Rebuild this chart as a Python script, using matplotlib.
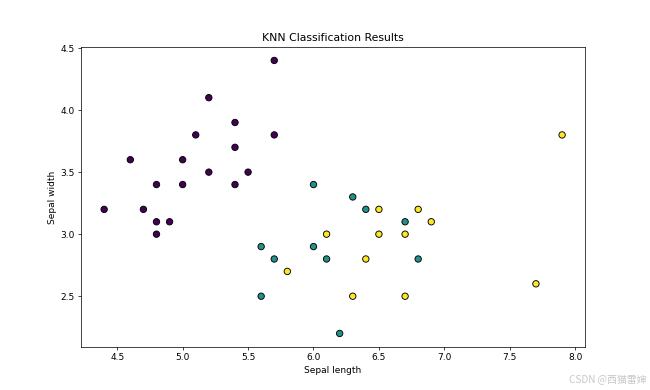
import matplotlib
matplotlib.use("Agg")
import matplotlib.pyplot as plt
import numpy as np

# Purple (class 0)
x0 = [5.7, 5.2, 5.4, 5.1, 5.7, 5.4, 4.6, 5.0, 5.2, 5.5, 4.8, 5.0, 5.4, 4.4, 4.7, 4.8, 4.9, 4.8]
y0 = [4.4, 4.1, 3.9, 3.8, 3.8, 3.7, 3.6, 3.6, 3.5, 3.5, 3.4, 3.4, 3.4, 3.2, 3.2, 3.1, 3.1, 3.0]
# Teal (class 1)
x1 = [6.0, 6.3, 6.4, 6.7, 5.6, 6.0, 5.7, 6.1, 6.8, 5.6, 6.2]
y1 = [3.4, 3.3, 3.2, 3.1, 2.9, 2.9, 2.8, 2.8, 2.8, 2.5, 2.2]
# Yellow (class 2)
x2 = [7.9, 6.5, 6.8, 6.9, 6.1, 6.5, 6.7, 6.4, 5.8, 6.3, 6.7, 7.7]
y2 = [3.8, 3.2, 3.2, 3.1, 3.0, 3.0, 3.0, 2.8, 2.7, 2.5, 2.5, 2.6]

xs = np.array(x0 + x1 + x2)
ys = np.array(y0 + y1 + y2)
labels = np.array([0] * len(x0) + [1] * len(x1) + [2] * len(x2))

fig = plt.figure(figsize=(10, 6), dpi=65)
ax = fig.add_subplot(111)
ax.scatter(xs, ys, c=labels, cmap="viridis", edgecolor="k", s=50)
ax.set_title("KNN Classification Results")
ax.set_xlabel("Sepal length")
ax.set_ylabel("Sepal width")

fig.text(0.995, 0.015, "CSDN @西猫雷婶", ha="right", va="bottom", fontsize=11,
         color="#c8c8c8", family=["Noto Sans CJK SC", "DejaVu Sans"])

fig.savefig("out.png", dpi=65)
